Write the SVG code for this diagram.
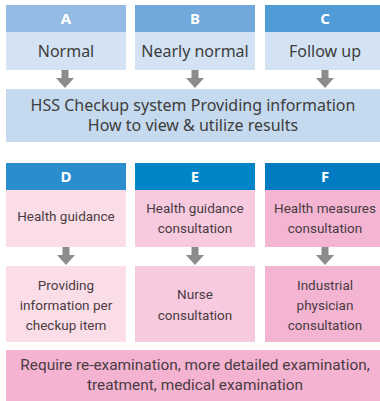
<svg xmlns="http://www.w3.org/2000/svg" width="380" height="401" viewBox="0 0 380 401">
  <style>
    .hdr { font-family: "Noto Sans", "Open Sans", sans-serif; font-size: 15px; font-weight: bold; fill: #ffffff; text-anchor: middle; }
    .blue { font-family: "Noto Sans", "Open Sans", sans-serif; font-size: 16px; fill: #3d3d3d; text-anchor: middle; }
    .pink { font-family: Roboto, "Noto Sans", sans-serif; font-size: 13.5px; fill: #4a3c42; text-anchor: middle; }
    .big { font-family: Roboto, "Noto Sans", sans-serif; font-size: 15.4px; fill: #4a3c42; text-anchor: middle; }
    .arrow { fill: #8c8c8c; }
  </style>
  <defs>
    <path id="down" d="M -3.5 0 H 3.5 V 8 H 9 L 0 18 L -9 8 H -3.5 Z" class="arrow"/>
  </defs>
  <rect width="380" height="401" fill="#ffffff"/>

  <!-- result categories -->
  <g id="node-a">
    <rect x="6" y="5" width="120" height="27" fill="#93bbe3"/>
    <rect x="6" y="32" width="120" height="38" fill="#d3e3f3"/>
    <text class="hdr" x="66" y="24">A</text>
    <text class="blue" x="66" y="57">Normal</text>
  </g>
  <g id="node-b">
    <rect x="135" y="5" width="120" height="27" fill="#72a8db"/>
    <rect x="135" y="32" width="120" height="38" fill="#d3e3f3"/>
    <text class="hdr" x="195" y="24">B</text>
    <text class="blue" x="195" y="57">Nearly normal</text>
  </g>
  <g id="node-c">
    <rect x="265" y="5" width="120" height="27" fill="#4f9bd6"/>
    <rect x="265" y="32" width="120" height="38" fill="#d3e3f3"/>
    <text class="hdr" x="325" y="24">C</text>
    <text class="blue" x="325" y="57">Follow up</text>
  </g>
  <g id="node-hss">
    <rect x="6" y="89" width="380" height="53" fill="#c5daef"/>
    <text class="blue" x="193" y="111">HSS Checkup system Providing information</text>
    <text class="blue" x="193" y="131">How to view &amp; utilize results</text>
  </g>

  <!-- follow-up actions -->
  <g id="node-d">
    <rect x="6" y="163" width="120" height="27" fill="#2a8dcd"/>
    <rect x="6" y="190" width="120" height="57" fill="#fbdde8"/>
    <text class="hdr" x="66" y="182">D</text>
    <text class="pink" x="66" y="221">Health guidance</text>
  </g>
  <g id="node-e">
    <rect x="135" y="163" width="120" height="27" fill="#0085c8"/>
    <rect x="135" y="190" width="120" height="57" fill="#f8cadf"/>
    <text class="hdr" x="195" y="182">E</text>
    <text class="pink" x="195" y="213">Health guidance</text>
    <text class="pink" x="195" y="233">consultation</text>
  </g>
  <g id="node-f">
    <rect x="265" y="163" width="120" height="27" fill="#007ac1"/>
    <rect x="265" y="190" width="120" height="57" fill="#f4b5d2"/>
    <text class="hdr" x="325" y="182">F</text>
    <text class="pink" x="325" y="213">Health measures</text>
    <text class="pink" x="325" y="233">consultation</text>
  </g>

  <g id="node-d2">
    <rect x="6" y="266" width="120" height="76" fill="#fbdde8"/>
    <text class="pink" x="66" y="290">Providing</text>
    <text class="pink" x="66" y="310">information per</text>
    <text class="pink" x="66" y="330">checkup item</text>
  </g>
  <g id="node-e2">
    <rect x="135" y="266" width="120" height="76" fill="#f8cadf"/>
    <text class="pink" x="195" y="299">Nurse</text>
    <text class="pink" x="195" y="320">consultation</text>
  </g>
  <g id="node-f2">
    <rect x="265" y="266" width="120" height="76" fill="#f4b5d2"/>
    <text class="pink" x="325" y="290">Industrial</text>
    <text class="pink" x="325" y="310">physician</text>
    <text class="pink" x="325" y="330">consultation</text>
  </g>
  <g id="node-exam">
    <rect x="6" y="350" width="380" height="55" fill="#f3b3d1"/>
    <text class="big" x="195" y="370">Require re-examination, more detailed examination,</text>
    <text class="big" x="195" y="390">treatment, medical examination</text>
  </g>

  <!-- connectors -->
  <g id="connectors">
    <use href="#down" x="65" y="70"/>
    <use href="#down" x="195" y="70"/>
    <use href="#down" x="325" y="70"/>
    <use href="#down" x="66" y="247"/>
    <use href="#down" x="195" y="247"/>
    <use href="#down" x="325" y="247"/>
  </g>
</svg>
